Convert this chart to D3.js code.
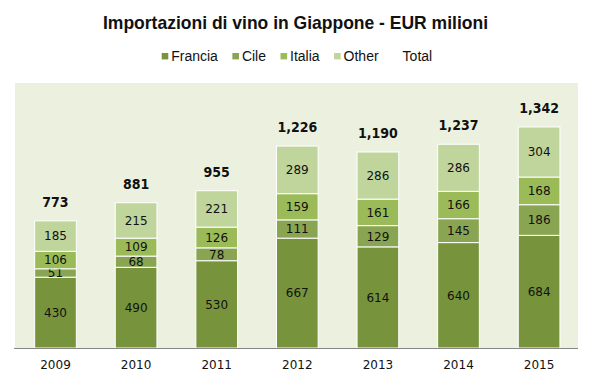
<!DOCTYPE html>
<html>
<head>
<meta charset="utf-8">
<script src="https://cdn.jsdelivr.net/npm/d3@7"></script>
<style>
html,body{margin:0;padding:0;background:#fff;}
svg{display:block;}
</style>
</head>
<body>
<svg id="chart" width="594" height="382"></svg>
<script>
const years = ["2009","2010","2011","2012","2013","2014","2015"];
const seriesNames = ["Francia","Cile","Italia","Other"];
const francia = [430,490,530,667,614,640,684];
const cile = [51,68,78,111,129,145,186];
const italia = [106,109,126,159,161,166,168];
const other = [185,215,221,289,286,286,304];
const totals = [773,881,955,1226,1190,1237,1342];
const legendNames = ["Francia","Cile","Italia","Other","Total"];
const yMax = 1600;

const colors = {Francia:"#77933c", Cile:"#8aa551", Italia:"#9bbb59", Other:"#c0d59b"};

const svg = d3.select("#chart");
const plot = {left:15, right:578, top:83, bottom:348};

svg.append("rect").attr("x",plot.left).attr("y",plot.top)
  .attr("width",plot.right-plot.left).attr("height",plot.bottom-plot.top)
  .attr("fill","#ebf1de");

const x = d3.scaleBand().domain(years).range([15.2,579.4]).paddingInner(0.483).paddingOuter(0.2415);
const y = d3.scaleLinear().domain([0,yMax]).range([348, 348-1600*0.1647]);

const table = years.map((yr,i)=>({year:yr, Francia:francia[i], Cile:cile[i], Italia:italia[i], Other:other[i], total:totals[i]}));
const stacked = d3.stack().keys(seriesNames)(table);

const g = svg.append("g");
stacked.forEach(layer=>{
  const lg = g.append("g");
  lg.selectAll("rect").data(layer).join("rect")
    .attr("x",d=>x(d.data.year))
    .attr("width",x.bandwidth())
    .attr("y",d=>y(d[1]))
    .attr("height",d=>y(d[0])-y(d[1]))
    .attr("fill",colors[layer.key])
    .attr("stroke","#ffffff").attr("stroke-width",1);
  lg.selectAll("text").data(layer).join("text")
    .attr("x",d=>x(d.data.year)+x.bandwidth()/2)
    .attr("y",d=>(y(d[0])+y(d[1]))/2)
    .attr("dy","0.36em")
    .attr("text-anchor","middle")
    .attr("font-family","'DejaVu Sans', Verdana, sans-serif")
    .attr("font-size","12px")
    .attr("fill","#111")
    .text(d=>d.data[layer.key]);
});

// totals
g.selectAll(".tot").data(table).join("text").attr("class","tot")
  .attr("x",d=>x(d.year)+x.bandwidth()/2)
  .attr("y",d=>y(d3.sum(seriesNames,k=>d[k]))-14)
  .attr("text-anchor","middle")
  .attr("font-family","'DejaVu Sans Condensed','DejaVu Sans', sans-serif")
  .attr("font-weight","bold")
  .attr("font-size","14px")
  .attr("fill","#111")
  .text(d=>d3.format(",")(d.total));

// x axis
const xAxis = d3.axisBottom(x).tickSize(0).tickPadding(0);
const ax = svg.append("g").attr("transform",`translate(0,${plot.bottom})`).call(xAxis);
ax.select(".domain").attr("d",`M14,0.5H578`).attr("stroke","#868686").attr("stroke-width",1.2);
ax.selectAll("text").attr("font-family","'DejaVu Sans', Verdana, sans-serif")
  .attr("font-size","12px").attr("fill","#111").attr("dy",null).attr("y",21);

// title
svg.append("text").attr("x",103).attr("y",28.5)
  .attr("font-family","'Liberation Sans',Arial,sans-serif")
  .attr("font-weight","bold").attr("font-size","18.5px").attr("fill","#111")
  .attr("textLength",385).attr("lengthAdjust","spacingAndGlyphs")
  .text("Importazioni di vino in Giappone - EUR milioni");

// legend
const leg = svg.append("g");
let lx = 161.7;
legendNames.forEach(name=>{
  if (colors[name]) {
    leg.append("rect").attr("x",lx).attr("y",53).attr("width",6.6).attr("height",6.4).attr("fill",colors[name]);
  }
  const t = leg.append("text").attr("x",lx+9.5).attr("y",60.7)
    .attr("font-family","'Liberation Sans',Arial,sans-serif").attr("font-size","14px").attr("fill","#111").text(name);
  lx += 9.5 + t.node().getComputedTextLength() + 14.5;
});
</script>
</body>
</html>
